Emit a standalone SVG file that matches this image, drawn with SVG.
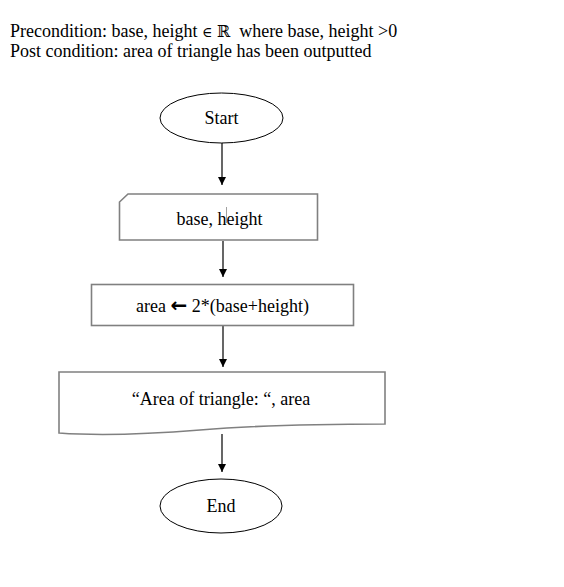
<svg xmlns="http://www.w3.org/2000/svg" width="564" height="587" viewBox="0 0 564 587">
<style>
text{font-family:"Liberation Serif","Times New Roman",serif;font-size:18px;fill:#000}
.c{text-anchor:middle}
.sym{font-family:"DejaVu Serif","DejaVu Sans",serif;font-size:14px}
.r{font-family:"DejaVu Serif","DejaVu Sans",serif;font-size:16px}
.ar{font-family:"DejaVu Sans",sans-serif;font-weight:bold;font-size:20px}
.term{fill:#fff;stroke:#000;stroke-width:1}
.box{fill:#fff;stroke:#808080;stroke-width:1.6}
.conn{stroke:#000;stroke-width:1.2;fill:none;marker-end:url(#arr)}
</style>
<defs>
<marker id="arr" markerUnits="userSpaceOnUse" markerWidth="10" markerHeight="10" refX="8" refY="4" orient="auto">
<path d="M0,0 L8,4 L0,8 Z" fill="#000"/>
</marker>
</defs>
<rect width="564" height="587" fill="#fff"/>
<g id="header">
<text x="10" y="37" xml:space="preserve">Precondition: base, height <tspan class="sym">∈</tspan> <tspan class="r">ℝ</tspan>  where base, height &gt;0</text>
<text x="10" y="56.5">Post condition: area of triangle has been outputted</text>
</g>
<g id="connectors">
<line class="conn" x1="222" y1="143" x2="222" y2="185"/>
<line class="conn" x1="223" y1="241" x2="223" y2="277"/>
<line class="conn" x1="223" y1="326" x2="223" y2="367"/>
<line class="conn" x1="222" y1="434" x2="222" y2="472"/>
</g>
<g id="start">
<ellipse class="term" cx="221.5" cy="118" rx="61.5" ry="25"/>
<text class="c" x="221.5" y="124">Start</text>
</g>
<g id="input">
<path class="box" d="M128,194 L317.5,194 L317.5,240 L119.5,240 L119.5,202 Z"/>
<text class="c" x="219.5" y="225">base, height</text>
<line x1="226.5" y1="207" x2="226.5" y2="223" stroke="#888" stroke-width="0.8"/>
</g>
<g id="process">
<rect class="box" x="91.5" y="284.5" width="262" height="41"/>
<text class="c" x="222.5" y="312">area <tspan class="ar">←</tspan> 2*(base+height)</text>
</g>
<g id="output">
<path class="box" d="M59,372 L385,372 L385,424 C320,424 250,426 200,430 C150,434 100,436 59,433 Z"/>
<text class="c" x="221" y="405">“Area of triangle: “, area</text>
</g>
<g id="end">
<ellipse class="term" cx="221" cy="506" rx="61" ry="27"/>
<text class="c" x="221" y="512">End</text>
</g>
</svg>
